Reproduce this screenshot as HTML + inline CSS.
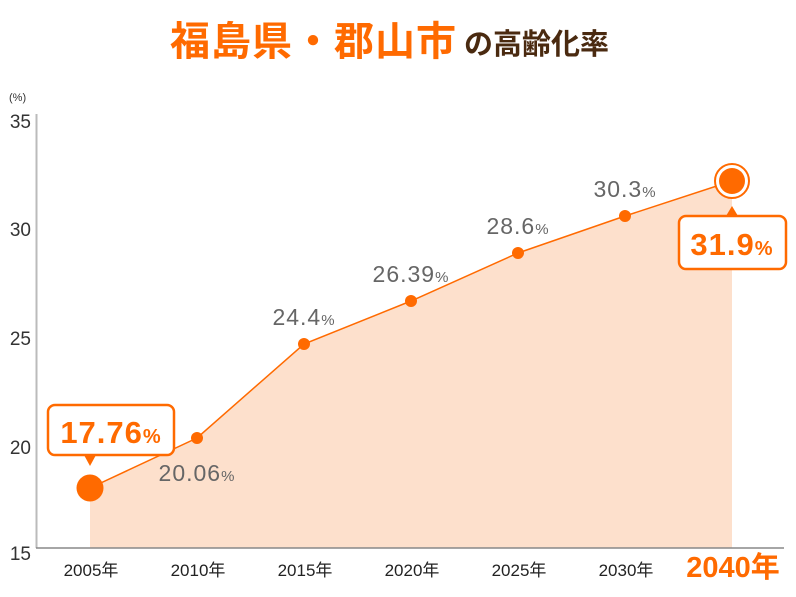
<!DOCTYPE html>
<html><head><meta charset="utf-8"><style>
html,body{margin:0;padding:0;background:#fff;}
svg{display:block;}
text{font-family:"Liberation Sans","Noto Sans CJK JP",sans-serif;}
</style></head><body>
<svg width="796" height="597" viewBox="0 0 796 597" xmlns="http://www.w3.org/2000/svg">
<text x="170" y="55" font-size="40" font-weight="bold" fill="#ff6a00" letter-spacing="1">福島県・郡山市</text>
<text x="464" y="54" font-size="29" font-weight="bold" fill="#4a2a10">の高齢化率</text>
<text x="9" y="101" font-size="11" fill="#333">(%)</text>
<polygon points="90,488 197,438 304,344 411,301 518,253 625,216 732,181 732,548 90,548" fill="#fde0cc"/>
<line x1="36.5" y1="114" x2="36.5" y2="548" stroke="#bbb" stroke-width="2"/>
<line x1="36" y1="548" x2="784" y2="548" stroke="#888" stroke-width="1.5"/>
<g font-size="19" fill="#333" text-anchor="end">
<text x="31" y="128">35</text><text x="31" y="236">30</text><text x="31" y="345">25</text><text x="31" y="454">20</text><text x="31" y="560">15</text>
</g>
<polyline points="90,488 197,438 304,344 411,301 518,253 625,216 732,181" fill="none" stroke="#ff6a00" stroke-width="1.5"/>
<g fill="#ff6a00">
<circle cx="197" cy="438" r="6"/><circle cx="304" cy="344" r="6"/><circle cx="411" cy="301" r="6"/><circle cx="518" cy="253" r="6"/><circle cx="625" cy="216" r="6"/>
<circle cx="90" cy="488" r="13.5"/>
</g>
<circle cx="732" cy="181" r="17" fill="#fff" stroke="#ff6a00" stroke-width="2"/>
<circle cx="732" cy="181" r="13" fill="#ff6a00"/>
<g font-size="23" fill="#666" text-anchor="middle" letter-spacing="1">
<text x="197" y="481">20.06<tspan font-size="15">%</tspan></text>
<text x="304" y="325">24.4<tspan font-size="15">%</tspan></text>
<text x="411" y="282">26.39<tspan font-size="15">%</tspan></text>
<text x="518" y="234">28.6<tspan font-size="15">%</tspan></text>
<text x="625" y="197">30.3<tspan font-size="15">%</tspan></text>
</g>
<rect x="48" y="405" width="126" height="50" rx="7" fill="#fff" stroke="#ff6a00" stroke-width="2.5"/>
<polygon points="84,455 96,455 90,466" fill="#ff6a00"/>
<text x="111" y="443" font-size="31" font-weight="bold" fill="#ff6a00" text-anchor="middle" letter-spacing="1">17.76<tspan font-size="20">%</tspan></text>
<rect x="679" y="216" width="107" height="53" rx="7" fill="#fff" stroke="#ff6a00" stroke-width="2.5"/>
<polygon points="726,216 738,216 732,206" fill="#ff6a00"/>
<text x="732" y="255" font-size="31" font-weight="bold" fill="#ff6a00" text-anchor="middle" letter-spacing="1">31.9<tspan font-size="20">%</tspan></text>
<g font-size="17" fill="#222" text-anchor="middle">
<text x="91" y="576">2005年</text><text x="198" y="576">2010年</text><text x="305" y="576">2015年</text><text x="412" y="576">2020年</text><text x="519" y="576">2025年</text><text x="626" y="576">2030年</text>
</g>
<text x="733" y="577" font-size="29" font-weight="bold" fill="#ff6a00" text-anchor="middle">2040年</text>
</svg>
</body></html>
